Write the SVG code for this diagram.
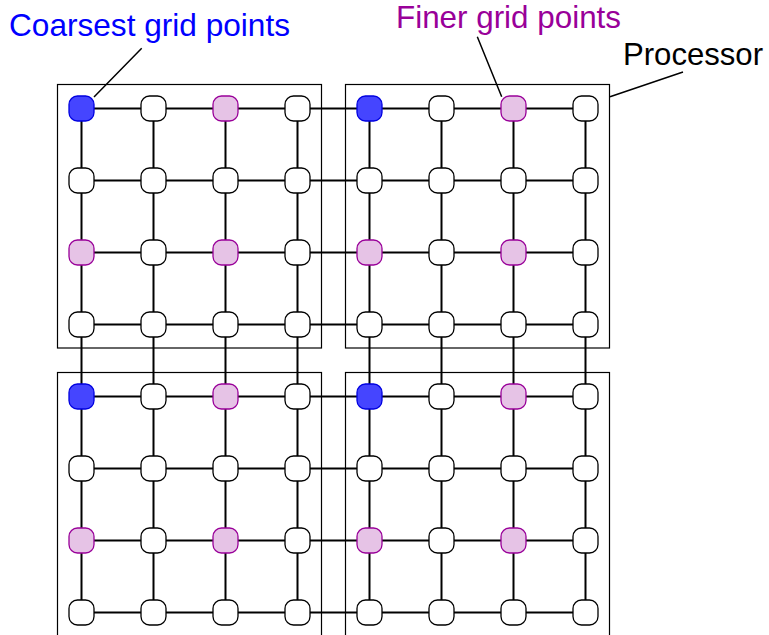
<svg xmlns="http://www.w3.org/2000/svg" width="769" height="635" viewBox="0 0 769 635">
<style>
.proc{fill:none;stroke:#000;stroke-width:1.2}
.edge{stroke:#000;stroke-width:2;fill:none}
.lead{stroke:#000;stroke-width:1.5;fill:none}
.n{fill:#fff;stroke:#000;stroke-width:1.3}
.c{fill:#4545FF;stroke:#0000E0;stroke-width:1.3}
.f{fill:#E6C3E6;stroke:#990099;stroke-width:1.3}
.t{font-family:"Liberation Sans",Arial,sans-serif;font-size:30.5px}
</style>
<defs>
<rect id="nd" x="-12.5" y="-12.5" width="25" height="25" rx="8.5" ry="8.5"/>
</defs>
<rect width="769" height="635" fill="#fff"/>
<g id="processors">
<rect class="proc" x="57.5" y="84.5" width="264" height="263.5"/>
<rect class="proc" x="345.5" y="84.5" width="264" height="263.5"/>
<rect class="proc" x="57.5" y="372.5" width="264" height="270"/>
<rect class="proc" x="345.5" y="372.5" width="264" height="270"/>
</g>
<g id="connectors">
<path class="edge" d="M81.5 108.5H585.5M81.5 180.5H585.5M81.5 252.5H585.5M81.5 324.5H585.5M81.5 396.5H585.5M81.5 468.5H585.5M81.5 540.5H585.5M81.5 612.5H585.5"/>
<path class="edge" d="M81.5 108.5V612.5M153.5 108.5V612.5M225.5 108.5V612.5M297.5 108.5V612.5M369.5 108.5V612.5M441.5 108.5V612.5M513.5 108.5V612.5M585.5 108.5V612.5"/>
<path class="lead" d="M141.7 48.3L94 97M477.3 36.7L501.7 96.7M610 96.7L683 72"/>
</g>
<g id="nodes">
<g id="n0_0"><use href="#nd" class="c" x="81.5" y="108.5"/></g>
<g id="n0_1"><use href="#nd" class="n" x="153.5" y="108.5"/></g>
<g id="n0_2"><use href="#nd" class="f" x="225.5" y="108.5"/></g>
<g id="n0_3"><use href="#nd" class="n" x="297.5" y="108.5"/></g>
<g id="n0_4"><use href="#nd" class="c" x="369.5" y="108.5"/></g>
<g id="n0_5"><use href="#nd" class="n" x="441.5" y="108.5"/></g>
<g id="n0_6"><use href="#nd" class="f" x="513.5" y="108.5"/></g>
<g id="n0_7"><use href="#nd" class="n" x="585.5" y="108.5"/></g>
<g id="n1_0"><use href="#nd" class="n" x="81.5" y="180.5"/></g>
<g id="n1_1"><use href="#nd" class="n" x="153.5" y="180.5"/></g>
<g id="n1_2"><use href="#nd" class="n" x="225.5" y="180.5"/></g>
<g id="n1_3"><use href="#nd" class="n" x="297.5" y="180.5"/></g>
<g id="n1_4"><use href="#nd" class="n" x="369.5" y="180.5"/></g>
<g id="n1_5"><use href="#nd" class="n" x="441.5" y="180.5"/></g>
<g id="n1_6"><use href="#nd" class="n" x="513.5" y="180.5"/></g>
<g id="n1_7"><use href="#nd" class="n" x="585.5" y="180.5"/></g>
<g id="n2_0"><use href="#nd" class="f" x="81.5" y="252.5"/></g>
<g id="n2_1"><use href="#nd" class="n" x="153.5" y="252.5"/></g>
<g id="n2_2"><use href="#nd" class="f" x="225.5" y="252.5"/></g>
<g id="n2_3"><use href="#nd" class="n" x="297.5" y="252.5"/></g>
<g id="n2_4"><use href="#nd" class="f" x="369.5" y="252.5"/></g>
<g id="n2_5"><use href="#nd" class="n" x="441.5" y="252.5"/></g>
<g id="n2_6"><use href="#nd" class="f" x="513.5" y="252.5"/></g>
<g id="n2_7"><use href="#nd" class="n" x="585.5" y="252.5"/></g>
<g id="n3_0"><use href="#nd" class="n" x="81.5" y="324.5"/></g>
<g id="n3_1"><use href="#nd" class="n" x="153.5" y="324.5"/></g>
<g id="n3_2"><use href="#nd" class="n" x="225.5" y="324.5"/></g>
<g id="n3_3"><use href="#nd" class="n" x="297.5" y="324.5"/></g>
<g id="n3_4"><use href="#nd" class="n" x="369.5" y="324.5"/></g>
<g id="n3_5"><use href="#nd" class="n" x="441.5" y="324.5"/></g>
<g id="n3_6"><use href="#nd" class="n" x="513.5" y="324.5"/></g>
<g id="n3_7"><use href="#nd" class="n" x="585.5" y="324.5"/></g>
<g id="n4_0"><use href="#nd" class="c" x="81.5" y="396.5"/></g>
<g id="n4_1"><use href="#nd" class="n" x="153.5" y="396.5"/></g>
<g id="n4_2"><use href="#nd" class="f" x="225.5" y="396.5"/></g>
<g id="n4_3"><use href="#nd" class="n" x="297.5" y="396.5"/></g>
<g id="n4_4"><use href="#nd" class="c" x="369.5" y="396.5"/></g>
<g id="n4_5"><use href="#nd" class="n" x="441.5" y="396.5"/></g>
<g id="n4_6"><use href="#nd" class="f" x="513.5" y="396.5"/></g>
<g id="n4_7"><use href="#nd" class="n" x="585.5" y="396.5"/></g>
<g id="n5_0"><use href="#nd" class="n" x="81.5" y="468.5"/></g>
<g id="n5_1"><use href="#nd" class="n" x="153.5" y="468.5"/></g>
<g id="n5_2"><use href="#nd" class="n" x="225.5" y="468.5"/></g>
<g id="n5_3"><use href="#nd" class="n" x="297.5" y="468.5"/></g>
<g id="n5_4"><use href="#nd" class="n" x="369.5" y="468.5"/></g>
<g id="n5_5"><use href="#nd" class="n" x="441.5" y="468.5"/></g>
<g id="n5_6"><use href="#nd" class="n" x="513.5" y="468.5"/></g>
<g id="n5_7"><use href="#nd" class="n" x="585.5" y="468.5"/></g>
<g id="n6_0"><use href="#nd" class="f" x="81.5" y="540.5"/></g>
<g id="n6_1"><use href="#nd" class="n" x="153.5" y="540.5"/></g>
<g id="n6_2"><use href="#nd" class="f" x="225.5" y="540.5"/></g>
<g id="n6_3"><use href="#nd" class="n" x="297.5" y="540.5"/></g>
<g id="n6_4"><use href="#nd" class="f" x="369.5" y="540.5"/></g>
<g id="n6_5"><use href="#nd" class="n" x="441.5" y="540.5"/></g>
<g id="n6_6"><use href="#nd" class="f" x="513.5" y="540.5"/></g>
<g id="n6_7"><use href="#nd" class="n" x="585.5" y="540.5"/></g>
<g id="n7_0"><use href="#nd" class="n" x="81.5" y="612.5"/></g>
<g id="n7_1"><use href="#nd" class="n" x="153.5" y="612.5"/></g>
<g id="n7_2"><use href="#nd" class="n" x="225.5" y="612.5"/></g>
<g id="n7_3"><use href="#nd" class="n" x="297.5" y="612.5"/></g>
<g id="n7_4"><use href="#nd" class="n" x="369.5" y="612.5"/></g>
<g id="n7_5"><use href="#nd" class="n" x="441.5" y="612.5"/></g>
<g id="n7_6"><use href="#nd" class="n" x="513.5" y="612.5"/></g>
<g id="n7_7"><use href="#nd" class="n" x="585.5" y="612.5"/></g>
</g>
<g id="labels">
<text class="t" x="9" y="36" fill="#0000FF" textLength="281" lengthAdjust="spacingAndGlyphs">Coarsest grid points</text>
<text class="t" x="396" y="27.5" fill="#990099" textLength="225" lengthAdjust="spacingAndGlyphs">Finer grid points</text>
<text class="t" x="623" y="65" fill="#000" textLength="140" lengthAdjust="spacingAndGlyphs">Processor</text>
</g>
</svg>
